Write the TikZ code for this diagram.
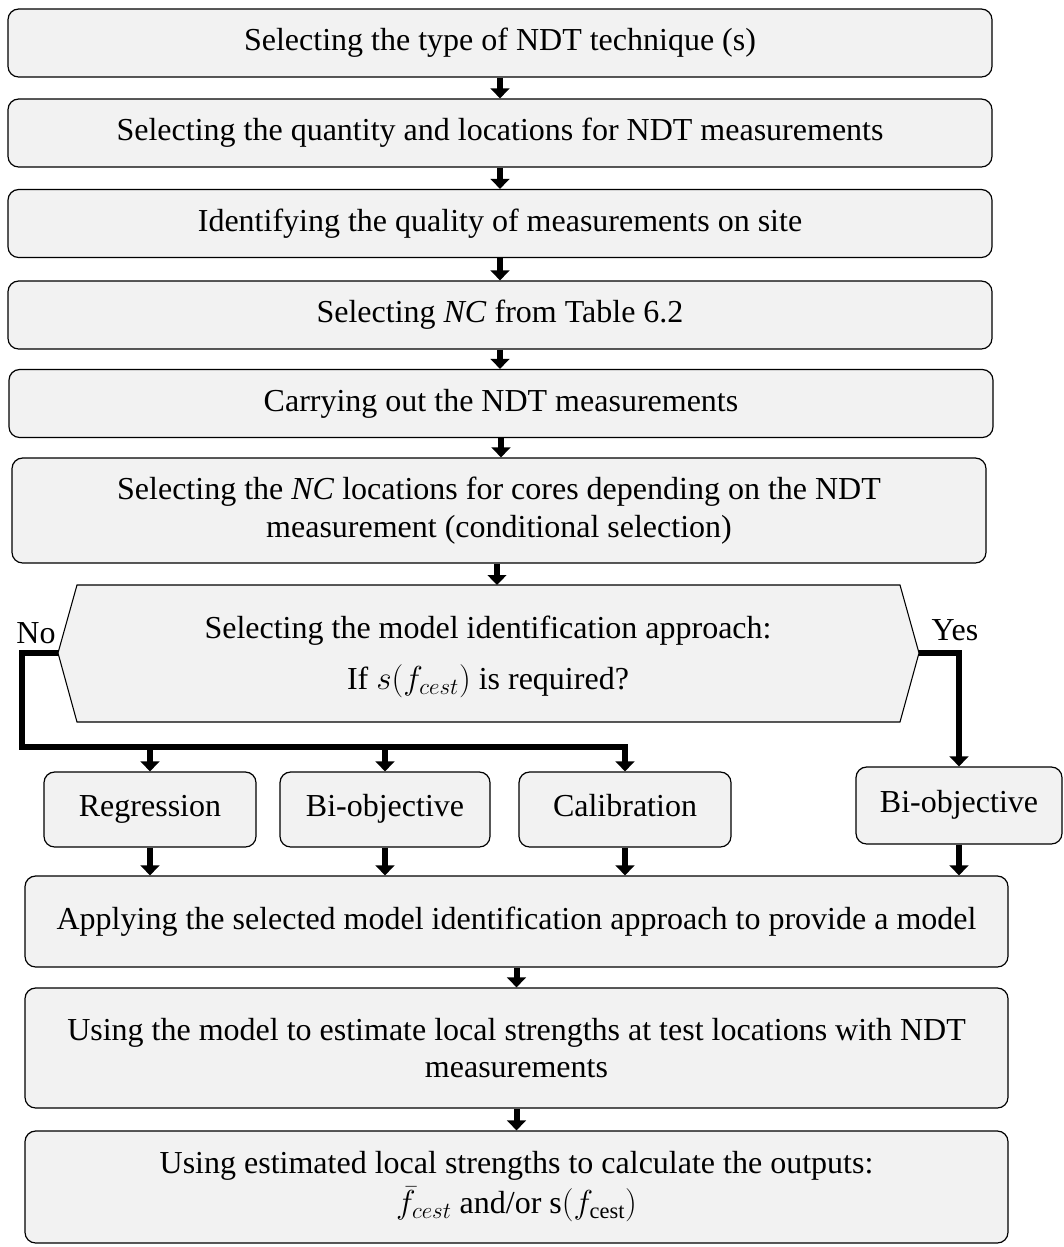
\documentclass[tikz,border=0pt]{standalone}
\usepackage{fontspec}
\setmainfont{Liberation Serif}
\usetikzlibrary{arrows.meta,calc}
\definecolor{kasten}{HTML}{F2F2F2}
\tikzset{
  box/.style={draw=black,fill=kasten,line width=0.9pt,rounded corners=8pt,align=center,
    font=\fontsize{24}{28}\selectfont,inner sep=0pt},
  kbox/.style={box,minimum height=56.25pt,text height=16pt,text depth=5pt},
  pfeil/.style={-{Triangle[length=7.5pt,width=14pt]},line width=4.5pt},
  lab/.style={font=\fontsize{24}{28}\selectfont,inner sep=0pt},
}

\begin{document}
\begin{tikzpicture}[x=0.75pt,y=-0.75pt]
  \useasboundingbox (0,0) rectangle (1064,1247);
  \node[box,minimum width=738pt,minimum height=51pt] (b1) at (500,43) {Selecting the type of NDT technique (s)};
  \node[box,minimum width=738pt,minimum height=51pt] (b2) at (500,133) {Selecting the quantity and locations for NDT measurements};
  \node[box,minimum width=738pt,minimum height=51pt] (b3) at (500,223.5) {Identifying the quality of measurements on site};
  \node[box,minimum width=738pt,minimum height=51pt] (b4) at (500,315) {Selecting \textit{NC} from Table 6.2};
  \node[box,minimum width=738pt,minimum height=51pt] (b5) at (501,403.5) {Carrying out the NDT measurements};
  \node[box,minimum width=730.5pt,minimum height=78.75pt] (b6) at (499,510.5)
    {Selecting the \textit{NC} locations for cores depending on the NDT\\measurement (conditional selection)};
  \draw[fill=kasten,line width=0.8pt] (77,585) -- (900,585) -- (919,653) coordinate (hexR)
    -- (900,722) -- (77,722) -- (58,653) coordinate (hexL) -- cycle;
  \coordinate (hexT) at (497,585);
  \node[lab,align=center] (dec) at (488,657)
    {Selecting the model identification approach:\\[10pt] If $s(f_{cest})$ is required?};
  \node[lab] (no) at (36,633) {No};
  \node[lab] (yes) at (955,630) {Yes};
  \coordinate (nobus) at (22,747);
  \node[kbox,minimum width=159pt] (reg) at (150,809.5) {Regression};
  \node[kbox,minimum width=157.5pt] (bia) at (385,809.5) {Bi-objective};
  \node[kbox,minimum width=159pt] (cal) at (625,809.5) {Calibration};
  \node[kbox,minimum width=154.5pt,minimum height=57.75pt] (bib) at (959,805.5) {Bi-objective};
  \node[box,minimum width=737.25pt,minimum height=68.25pt] (app) at (516.5,921.5)
    {Applying the selected model identification approach to provide a model};
  \node[box,minimum width=737.25pt,minimum height=90pt] (use) at (516.5,1048)
    {Using the model to estimate local strengths at test locations with NDT\\measurements};
  \node[box,minimum width=737.25pt,minimum height=84pt] (out) at (516.5,1187)
    {Using estimated local strengths to calculate the outputs:\\[2pt]$\bar{f}_{cest}$ and/or s$(f_{\mathrm{cest}})$};
  \draw[pfeil] (b1) -- (b2);
  \draw[pfeil] (b2) -- (b3);
  \draw[pfeil] (b3) -- (b4);
  \draw[pfeil] (b4.south) -- (b4.south |- b5.north);
  \draw[pfeil] (b5.south) -- (b5.south |- b6.north);
  \draw[pfeil] (b6.south -| hexT) -- (hexT);
  \draw[pfeil] (hexL) -| (nobus) -| (cal.north);
  \draw[pfeil] (reg.north |- nobus) -- (reg.north);
  \draw[pfeil] (bia.north |- nobus) -- (bia.north);
  \draw[pfeil] (hexR) -| (bib.north);
  \draw[pfeil] (reg.south) -- (reg.south |- app.north);
  \draw[pfeil] (bia.south) -- (bia.south |- app.north);
  \draw[pfeil] (cal.south) -- (cal.south |- app.north);
  \draw[pfeil] (bib.south) -- (bib.south |- app.north);
  \draw[pfeil] (app) -- (use);
  \draw[pfeil] (use) -- (out);
\end{tikzpicture}
\end{document}
